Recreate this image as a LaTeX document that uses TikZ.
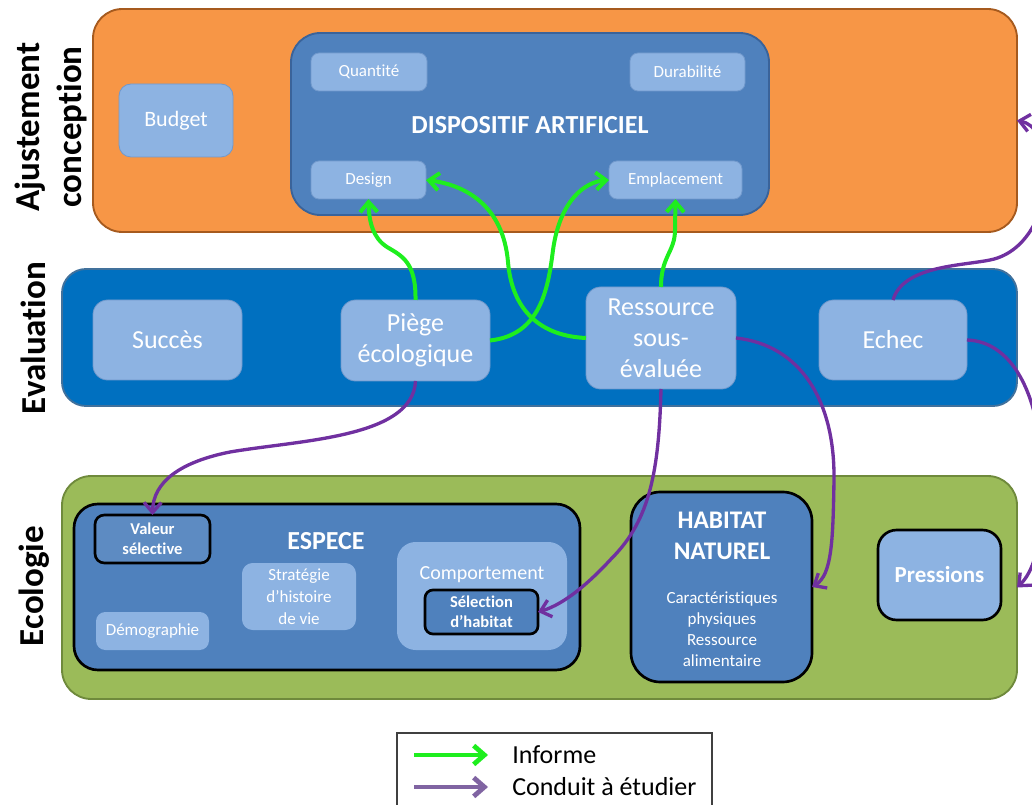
\documentclass[tikz,border=0pt]{standalone}
\usepackage{fontspec}
\setmainfont[Ligatures=NoCommon]{Carlito}
\usetikzlibrary{arrows.meta}
\definecolor{orng}{HTML}{F79646}
\definecolor{orngb}{HTML}{A65A1E}
\definecolor{dispo}{HTML}{4F81BD}
\definecolor{dispob}{HTML}{3A639A}
\definecolor{evalc}{HTML}{0070C0}
\definecolor{evalb}{HTML}{41719C}
\definecolor{ecoc}{HTML}{9BBB59}
\definecolor{ecob}{HTML}{6F8A3C}
\definecolor{lblue}{HTML}{8DB3E2}
\definecolor{lblueb}{HTML}{7199CC}
\definecolor{grn}{HTML}{1EEE1E}
\definecolor{purp}{HTML}{7030A0}
\definecolor{lpurp}{HTML}{8064A2}
\begin{document}
\begin{tikzpicture}[x=0.75pt,y=-0.75pt,
  sz/.style args={#1/#2}{minimum width=#1*0.75pt, minimum height=#2*0.75pt},
  base/.style={inner sep=0pt, outer sep=0pt, text=white, align=center},
  rowbox/.style={base, rounded corners=22pt, line width=1.4pt},
  lbox/.style={base, fill=lblue, draw=lblueb, line width=0.6pt},
  kbox/.style={base, draw=black, line width=2pt},
  fs/.style={font=\fontsize{12.75}{15.75}\selectfont},
  fsb/.style={font=\bfseries\fontsize{12.4}{15}\selectfont},
  fm/.style={font=\fontsize{19.5}{23.25}\selectfont},
  fmb/.style={font=\bfseries\fontsize{19.5}{23.25}\selectfont},
  lab/.style={inner sep=0pt, text=black, align=center, rotate=90, font=\bfseries\fontsize{26.25}{31.5}\selectfont},
  gar/.style={draw=grn, line width=3pt, -{Straight Barb[length=7.5pt,width=13pt]}},
  par/.style={draw=purp, line width=2.5pt, -{Straight Barb[length=7.5pt,width=13pt]}},
  txt/.style={inner sep=0pt, text=white, align=center}
]
\useasboundingbox (0,0) rectangle (1032,805);
\clip (0,0) rectangle (1032,805);

% rows
\node[rowbox, fill=orng, draw=orngb, sz=924/223] (aj) at (555,120.5) {};
\node[rowbox, fill=evalc, draw=evalb, sz=955/137, rounded corners=18pt] (ev) at (539.5,337.5) {};
\node[rowbox, fill=ecoc, draw=ecob, sz=955/223] (eco) at (539.5,587.5) {};

% row labels
\node[lab] (ajl) at (51,127) {Ajustement\\conception};
\node[lab] (evl) at (33,338) {Evaluation};
\node[lab] (ecl) at (34,586) {Ecologie};

% ajustement
\node[base, fill=dispo, draw=dispob, line width=1.4pt, rounded corners=22pt, sz=478/182] (dp) at (530,124) {};
\node[txt, fmb] (dpt) at (530,125) {DISPOSITIF ARTIFICIEL};
\node[lbox, fs, rounded corners=6pt, sz=116/38] (qu) at (369,72) {Quantité};
\node[lbox, fs, rounded corners=6pt, sz=115/38] (du) at (687.5,72) {Durabilité};
\node[lbox, fs, rounded corners=6pt, sz=115/38] (de) at (368.5,180) {Design};
\node[lbox, fs, rounded corners=6pt, sz=133/38] (em) at (675.5,180) {Emplacement};
\node[lbox, rounded corners=9pt, sz=114/73, font=\fontsize{16.5}{19.8}\selectfont] (bu) at (176,120.5) {Budget};

% evaluation
\node[lbox, fm, rounded corners=11pt, sz=149/80] (su) at (167.5,340) {Succès};
\node[lbox, fm, rounded corners=11pt, sz=149/81] (pi) at (415.5,340.5) {Piège\\écologique};
\node[lbox, fm, rounded corners=11pt, sz=150/102] (re) at (661,338) {Ressource\\sous-\\évaluée};
\node[lbox, fm, rounded corners=11pt, sz=148/80] (ec) at (893,340) {Echec};

% ecologie
\node[kbox, fill=dispo, rounded corners=18pt, sz=506/166] (esp) at (327,587) {};
\node[txt, fmb] (espt) at (326,541) {ESPECE};
\node[kbox, fsb, fill=dispo!92!white, rounded corners=7pt, sz=115/48] (va) at (152.5,539) {Valeur\\sélective};
\node[lbox, draw=none, rounded corners=8pt, sz=114/67, font=\fontsize{12.75}{16.5}\selectfont] (st) at (299,596.5) {Stratégie\\d’histoire\\de vie};
\node[lbox, draw=none, fs, rounded corners=7pt, sz=113/38] (dm) at (152.5,631) {Démographie};
\node[lbox, draw=none, rounded corners=14pt, sz=170/108] (co) at (482,596) {};
\node[txt, font=\fontsize{15}{18}\selectfont] (cot) at (482,575) {Comportement};
\node[kbox, fsb, fill=dispo, rounded corners=6pt, sz=113/44] (se) at (481.5,612) {Sélection\\d’habitat};
\node[kbox, fill=dispo, rounded corners=22pt, sz=181/190] (hab) at (721.5,587) {};
\node[txt, font=\bfseries\fontsize{19}{23.25}\selectfont] (habt) at (722,536) {HABITAT\\NATUREL};
\node[txt, fs] (habb) at (722,629.5) {Caractéristiques\\physiques\\Ressource\\alimentaire};
\node[kbox, fill=lblue, rounded corners=14pt, sz=123/90, font=\bfseries\fontsize{17.25}{20.7}\selectfont] (pr) at (939.5,575) {Pressions};

% green arrows (Informe)
\draw[gar] (pi.north) .. controls (416,262) and (402,256) .. (387,247) .. controls (373,238) and (369,222) .. (de.south);
\draw[gar] (pi.east) .. controls (540,335) and (548,290) .. (553,250) .. controls (560,200) and (585,182) .. (em.west);
\draw[gar] (re.west) .. controls (540,336) and (512,310) .. (508,262) .. controls (503,205) and (465,185) .. (de.east);
\draw[gar] (re.north) .. controls (661,256) and (675,252) .. (675,230) -- (em.south);

% purple arrows (Conduit a etudier)
\draw[par] (pi.south) .. controls (413,438) and (300,440) .. (230,452) .. controls (180,462) and (153,482) .. (va.north);
\draw[par] (re.south) .. controls (659,470) and (650,520) .. (612,558) .. controls (590,582) and (565,604) .. (se.east);
\draw[par] (re.east) .. controls (800,345) and (835,400) .. (834,480) .. controls (833,540) and (832,575) .. (hab.east);
\draw[par] (ec.north) .. controls (903,266) and (960,266) .. (990,260) .. controls (1030,252) and (1048,205) .. (1046,170) .. controls (1044,140) and (1035,124) .. (aj.east);
\draw[par] (ec.east) .. controls (1000,341) and (1025,370) .. (1036,420) .. controls (1048,480) and (1046,560) .. (eco.east);

% legend
\node[draw=black!75, line width=1pt, inner sep=0pt, sz=315/100] (lg) at (554.5,783) {};
\coordinate (g1) at (414,755);
\coordinate (g2) at (488,755);
\coordinate (p1) at (414,787);
\coordinate (p2) at (488,787);
\draw[draw=grn, line width=3.6pt, -{Straight Barb[length=8pt,width=14pt]}] (g1) -- (g2);
\draw[draw=lpurp, line width=3.6pt, -{Straight Barb[length=8pt,width=14pt]}] (p1) -- (p2);
\node[anchor=west, inner sep=0pt, font=\fontsize{19.5}{23.25}\selectfont] (li) at (512,755) {Informe};
\node[anchor=west, inner sep=0pt, font=\fontsize{19.5}{23.25}\selectfont] (lp) at (512,787) {Conduit à étudier};
\end{tikzpicture}
\end{document}
